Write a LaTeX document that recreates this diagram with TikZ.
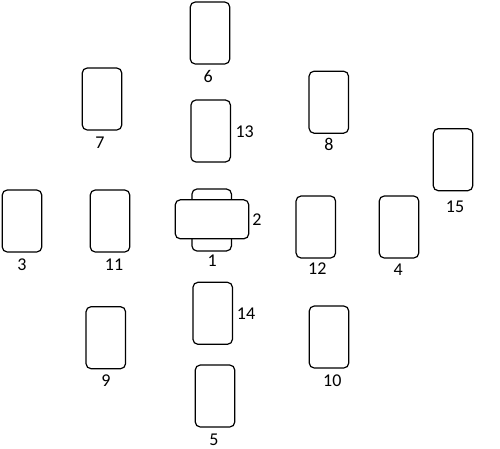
\documentclass[tikz,border=0pt]{standalone}
\usepackage{fontspec}
\setmainfont{Carlito}
\usepackage{tikz}
\usetikzlibrary{positioning}

\begin{document}
\begin{tikzpicture}[
  x=1pt,y=-1pt,
  card/.style={draw,line width=1.2pt,rounded corners=5pt,fill=white,minimum width=39.5pt,minimum height=62pt,inner sep=0pt},
  cardside/.style={card,minimum width=73.5pt,minimum height=39pt},
  num/.style={inner sep=0pt,font=\fontsize{18}{21}\selectfont}
]
  \useasboundingbox (0,0) rectangle (500,448);
  % cards
  \node[card] (c6) at (210,33) {};
  \node[card] (c7) at (102,99) {};
  \node[card] (c13) at (210.7,131) {};
  \node[card] (c8) at (328.8,102.2) {};
  \node[card] (c15) at (453,159.7) {};
  \node[card] (c3) at (22,221) {};
  \node[card] (c11) at (110,221) {};
  \node[card] (c1) at (211.7,220) {};
  \node[cardside] (c2) at (212,219.3) {};
  \node[card] (c12) at (315.8,227) {};
  \node[card] (c4) at (399,227) {};
  \node[card] (c14) at (212.7,313.3) {};
  \node[card] (c9) at (105.8,337.7) {};
  \node[card] (c10) at (329,337) {};
  \node[card] (c5) at (215,396) {};
  % numbers
  \node[num] (n6) at (208.3,76) {6};
  \node[num] (n7) at (100,142.7) {7};
  \node[num] (n13) at (244.7,131.7) {13};
  \node[num] (n8) at (329,144.3) {8};
  \node[num] (n15) at (455,206.7) {15};
  \node[num] (n3) at (22,265) {3};
  \node[num] (n11) at (114,265) {11};
  \node[num] (n1) at (212.3,261) {1};
  \node[num] (n2) at (257,220) {2};
  \node[num] (n12) at (317.3,268.3) {12};
  \node[num] (n4) at (398.3,270) {4};
  \node[num] (n14) at (246,313.3) {14};
  \node[num] (n9) at (106,381) {9};
  \node[num] (n10) at (332.3,380.7) {10};
  \node[num] (n5) at (214,439.3) {5};
\end{tikzpicture}
\end{document}
